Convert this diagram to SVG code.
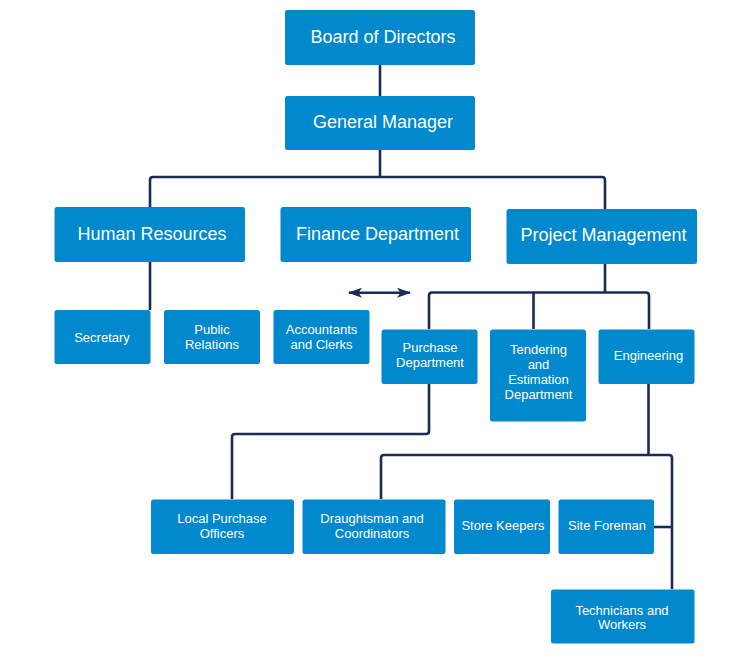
<svg xmlns="http://www.w3.org/2000/svg" width="739" height="665" viewBox="0 0 739 665">
<style>
.box{fill:#0288cc;}
.lg{font-family:"Liberation Sans",Arial,sans-serif;font-size:18px;fill:#ffffff;text-anchor:middle;}
.sm{font-family:"Liberation Sans",Arial,sans-serif;font-size:13px;fill:#ffffff;text-anchor:middle;}
.ln{fill:none;stroke:#1b2b58;stroke-width:2.6;stroke-linejoin:round;}
</style>
<defs>
<marker id="ah" viewBox="0 0 14 10" refX="13" refY="5" markerWidth="14" markerHeight="10" markerUnits="userSpaceOnUse" orient="auto-start-reverse">
<path d="M0,0 L14,5 L0,10 L3.5,5 Z" fill="#1b2b58"/>
</marker>
</defs>
<rect width="739" height="665" fill="#ffffff"/>
<g id="connectors">
<path class="ln" d="M380,65 V96"/>
<path class="ln" d="M380,150 V177"/>
<path class="ln" d="M150,207 V180 Q150,177 153,177 H602 Q605,177 605,180 V209"/>
<path class="ln" d="M150,262 V310"/>
<path class="ln" d="M605,264 V292.5"/>
<path class="ln" d="M429,329 V295.5 Q429,292.5 432,292.5 H646 Q649,292.5 649,295.5 V329"/>
<path class="ln" d="M533.5,292.5 V329"/>
<path class="ln" d="M429,384 V431 Q429,434 426,434 H235 Q232,434 232,437 V499"/>
<path class="ln" d="M648.5,384 V455"/>
<path class="ln" d="M381,499 V458 Q381,455 384,455 H669 Q672,455 672,458 V589"/>
<path class="ln" d="M654,527 H672"/>
<path class="ln" d="M349,292.7 H410" marker-start="url(#ah)" marker-end="url(#ah)"/>
</g>
<g id="board"><rect class="box" x="285" y="10" width="190" height="55" rx="2.5"/><text class="lg" x="383" y="42.8">Board of Directors</text></g>
<g id="gm"><rect class="box" x="285" y="96" width="190" height="54" rx="2.5"/><text class="lg" x="383" y="127.5">General Manager</text></g>
<g id="hr"><rect class="box" x="54.5" y="207" width="190.5" height="55" rx="2.5"/><text class="lg" x="152" y="240">Human Resources</text></g>
<g id="finance"><rect class="box" x="280.5" y="207" width="190.5" height="55" rx="2.5"/><text class="lg" x="377.5" y="240">Finance Department</text></g>
<g id="pm"><rect class="box" x="506.5" y="209" width="190.5" height="55" rx="2.5"/><text class="lg" x="603.5" y="240.7">Project Management</text></g>
<g id="secretary"><rect class="box" x="54.5" y="310" width="96" height="54" rx="2.5"/><text class="sm" x="102" y="342">Secretary</text></g>
<g id="pr"><rect class="box" x="164" y="310" width="96" height="54" rx="2.5"/><text class="sm" x="212" y="334.3">Public</text><text class="sm" x="212" y="349">Relations</text></g>
<g id="accountants"><rect class="box" x="273.5" y="310" width="96" height="54" rx="2.5"/><text class="sm" x="321.5" y="334.3">Accountants</text><text class="sm" x="321.5" y="349">and Clerks</text></g>
<g id="purchase"><rect class="box" x="381.5" y="329.5" width="96" height="54.5" rx="2.5"/><text class="sm" x="430" y="351.7">Purchase</text><text class="sm" x="430" y="366.7">Department</text></g>
<g id="tendering"><rect class="box" x="490" y="329.5" width="96" height="92" rx="2.5"/><text class="sm" x="538.5" y="354.3">Tendering</text><text class="sm" x="538.5" y="369.2">and</text><text class="sm" x="538.5" y="384">Estimation</text><text class="sm" x="538.5" y="398.7">Department</text></g>
<g id="engineering"><rect class="box" x="598.5" y="329.5" width="96" height="54.5" rx="2.5"/><text class="sm" x="648.5" y="360">Engineering</text></g>
<g id="localpurchase"><rect class="box" x="151" y="499.5" width="143" height="54.5" rx="2.5"/><text class="sm" x="222" y="523.4">Local Purchase</text><text class="sm" x="222" y="537.6">Officers</text></g>
<g id="draughtsman"><rect class="box" x="302.5" y="499.5" width="143" height="54.5" rx="2.5"/><text class="sm" x="372" y="523.4">Draughtsman and</text><text class="sm" x="372" y="537.6">Coordinators</text></g>
<g id="storekeepers"><rect class="box" x="454" y="499.5" width="96" height="54.5" rx="2.5"/><text class="sm" x="503" y="530">Store Keepers</text></g>
<g id="siteforeman"><rect class="box" x="558.5" y="499.5" width="95.5" height="54.5" rx="2.5"/><text class="sm" x="607" y="530">Site Foreman</text></g>
<g id="technicians"><rect class="box" x="551" y="589.5" width="143.5" height="54" rx="2.5"/><text class="sm" x="622" y="615">Technicians and</text><text class="sm" x="622" y="629.4">Workers</text></g>
</svg>
